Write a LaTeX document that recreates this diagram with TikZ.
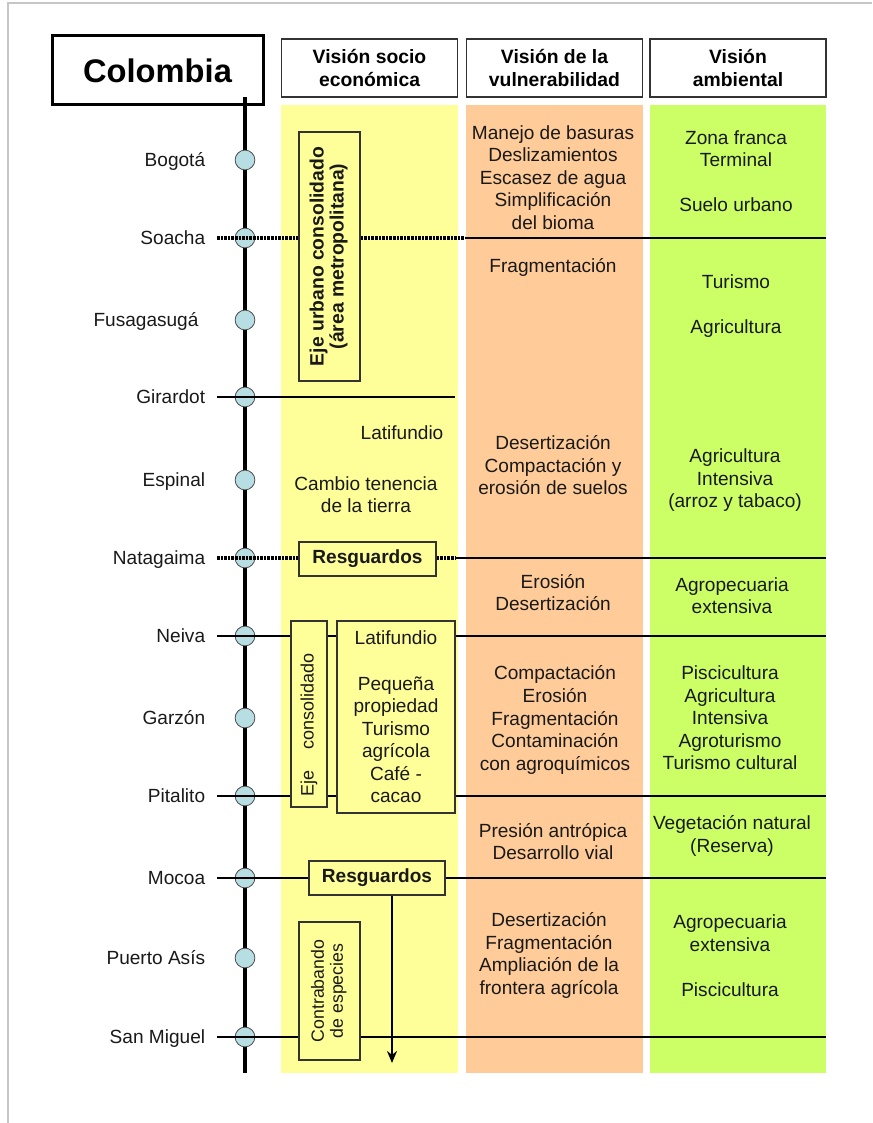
\documentclass[tikz,border=0pt]{standalone}
\usepackage{fontspec}
\setmainfont{Liberation Sans}
\usetikzlibrary{positioning,arrows.meta}

\definecolor{socioyellow}{HTML}{FFFF99}
\definecolor{vulnorange}{HTML}{FFCC99}
\definecolor{ambgreen}{HTML}{CCFF66}
\definecolor{citycyan}{HTML}{B7DEE3}

\newcommand\bodyfont{\fontsize{14.3}{16.9}\selectfont}
\newcommand\headfont{\fontsize{14.5}{17.3}\selectfont\bfseries}

\tikzset{
  city/.style={circle, draw=black!70, line width=0.6pt, fill=citycyan, minimum size=14.8pt, inner sep=0pt},
  cityname/.style={font=\bodyfont, text=black!90, inner sep=0pt, text height=10pt, text depth=0pt},
  rowline/.style={line width=1.6pt},
  dotline/.style={line width=2.6pt, dash pattern=on 1.9pt off 0.8pt},
  yellowbox/.style={draw=black!80, line width=0.9pt, fill=socioyellow, inner sep=0pt, text=black!90},
  headbox/.style={draw=black!80, line width=0.9pt, fill=white, minimum width=132pt, minimum height=43.5pt, align=center, font=\headfont},
  celltext/.style={align=center, font=\bodyfont, text=black!90, inner sep=0pt},
  arrowline/.style={line width=2.2pt, -{Stealth[length=9pt,width=7.5pt]}}
}

\begin{document}
\begin{tikzpicture}[x=0.75pt,y=-0.75pt]
    \useasboundingbox (0,0) rectangle (872,1123);
    \draw[gray!45, line width=0.9pt] (8,1123) -- (8,3) -- (872,3);

    % columns
    \fill[socioyellow] (281,105) rectangle (458,1073);
    \fill[vulnorange] (466,105) rectangle (643,1073);
    \fill[ambgreen] (650,105) rectangle (826,1073);

    \node[draw, line width=2.25pt, fill=white, minimum width=158.25pt, minimum height=51.75pt,
          font=\fontsize{24.5}{28}\selectfont\bfseries] (colombia) at (157.5,70.5) {Colombia};
    \node[headbox] (hsocio) at (369.5,68) {Visión socio\\económica};
    \node[headbox] (hvuln) at (554.5,68) {Visión de la\\vulnerabilidad};
    \node[headbox] (hamb) at (738,68) {Visión\\ambiental};

    \coordinate (top) at (245,97);
    \coordinate (bottom) at (245,1073);
    \draw[line width=3pt] (top) -- (bottom);

    \node[city] (bogota) at (245,160) {};
    \node[city] (soacha) at (245,238) {};
    \node[city] (fusagasuga) at (245,320) {};
    \node[city] (girardot) at (245,397) {};
    \node[city] (espinal) at (245,480) {};
    \node[city] (natagaima) at (245,558) {};
    \node[city] (neiva) at (245,636) {};
    \node[city] (garzon) at (245,718) {};
    \node[city] (pitalito) at (245,796) {};
    \node[city] (mocoa) at (245,878) {};
    \node[city] (puertoasis) at (245,958) {};
    \node[city] (sanmiguel) at (245,1037) {};

    \node[cityname, left=22pt of bogota] (lbogota) {Bogotá};
    \node[cityname, left=22pt of soacha] (lsoacha) {Soacha};
    \node[cityname, left=27pt of fusagasuga] (lfusagasuga) {Fusagasugá};
    \node[cityname, left=22pt of girardot] (lgirardot) {Girardot};
    \node[cityname, left=22pt of espinal] (lespinal) {Espinal};
    \node[cityname, left=22pt of natagaima] (lnatagaima) {Natagaima};
    \node[cityname, left=22pt of neiva] (lneiva) {Neiva};
    \node[cityname, left=22pt of garzon] (lgarzon) {Garzón};
    \node[cityname, left=22pt of pitalito] (lpitalito) {Pitalito};
    \node[cityname, left=22pt of mocoa] (lmocoa) {Mocoa};
    \node[cityname, left=22pt of puertoasis] (lpuertoasis) {Puerto Asís};
    \node[cityname, left=22pt of sanmiguel] (lsanmiguel) {San Miguel};

    \node[yellowbox, minimum width=45.75pt, minimum height=186.75pt] (eje1) at (329.5,256.5)
        {\rotatebox{90}{\fontsize{14.5}{14.5}\selectfont\bfseries
         \begin{tabular}{@{}c@{}}Eje urbano consolidado\\(área metropolitana)\end{tabular}}};
    \node[yellowbox, minimum width=102.75pt, minimum height=25.5pt, font=\bodyfont\bfseries] (resg1) at (367.5,559) {Resguardos};
    \node[yellowbox, minimum width=27pt, minimum height=139.5pt] (eje2) at (309,714)
        {\rotatebox{90}{\fontsize{13.5}{14}\selectfont Eje\hspace{16pt}consolidado\hspace{16pt}}};
    \node[yellowbox, minimum width=88.5pt, minimum height=144pt, align=center, font=\bodyfont] (lati) at (396,717)
        {Latifundio\\[16.9pt]Pequeña\\propiedad\\Turismo\\agrícola\\Café -\\cacao};
    \node[yellowbox, minimum width=102pt, minimum height=25.5pt, font=\bodyfont\bfseries] (resg2) at (377,878) {Resguardos};
    \node[yellowbox, minimum width=45.75pt, minimum height=103.5pt] (contra) at (329.5,991)
        {\rotatebox{90}{\fontsize{13.3}{14.2}\selectfont
         \begin{tabular}{@{}c@{}}Contrabando\\de especies\end{tabular}}};

    \coordinate (soachaL) at (217,238);
    \coordinate (soachaM) at (465,238);
    \coordinate (soachaR) at (826,238);
    \coordinate (girardotL) at (217,397);
    \coordinate (girardotR) at (455,397);
    \coordinate (natagaimaL) at (217,558);
    \coordinate (natagaimaM) at (456,558);
    \coordinate (natagaimaR) at (826,558);
    \coordinate (neivaL) at (217,636);
    \coordinate (neivaR) at (826,636);
    \coordinate (pitalitoL) at (217,796);
    \coordinate (pitalitoR) at (826,796);
    \coordinate (mocoaL) at (217,878);
    \coordinate (mocoaR) at (826,878);
    \coordinate (sanmiguelL) at (217,1037);
    \coordinate (sanmiguelR) at (826,1037);
    \coordinate (arrowend) at (392,1063);

    \draw[dotline] (soachaL) -- (eje1.west |- soacha);
    \draw[dotline] (eje1.east |- soacha) -- (soachaM);
    \draw[rowline] (soachaM) -- (soachaR);
    \draw[rowline] (girardotL) -- (girardotR);
    \draw[dotline] (natagaimaL) -- (resg1.west |- natagaima);
    \draw[dotline] (resg1.east |- natagaima) -- (natagaimaM);
    \draw[rowline] (natagaimaM) -- (natagaimaR);
    \draw[rowline] (neivaL) -- (eje2.west |- neiva);
    \draw[rowline] (eje2.east |- neiva) -- (lati.west |- neiva);
    \draw[rowline] (lati.east |- neiva) -- (neivaR);
    \draw[rowline] (pitalitoL) -- (eje2.west |- pitalito);
    \draw[rowline] (eje2.east |- pitalito) -- (lati.west |- pitalito);
    \draw[rowline] (lati.east |- pitalito) -- (pitalitoR);
    \draw[rowline] (mocoaL) -- (resg2.west);
    \draw[rowline] (resg2.east) -- (mocoaR);
    \draw[rowline] (sanmiguelL) -- (contra.west |- sanmiguel);
    \draw[rowline] (contra.east |- sanmiguel) -- (sanmiguelR);
    \draw[arrowline] (resg2.south -| arrowend) -- (arrowend);

    \node[celltext] (slati) at (402,433) {Latifundio};
    \node[celltext] (scambio) at (366,494.5) {Cambio tenencia\\de la tierra};

    \node[celltext] (v1) at (553,177.5) {Manejo de basuras\\Deslizamientos\\Escasez de agua\\Simplificación\\del bioma};
    \node[celltext] (v2) at (553,267) {Fragmentación};
    \node[celltext] (v3) at (553,465.5) {Desertización\\Compactación y\\erosión de suelos};
    \node[celltext] (v4) at (553,592.5) {Erosión\\Desertización};
    \node[celltext] (v5) at (555,720) {Compactación\\Erosión\\Fragmentación\\Contaminación\\con agroquímicos};
    \node[celltext] (v6) at (553,841.5) {Presión antrópica\\Desarrollo vial};
    \node[celltext] (v7) at (549,955.5) {Desertización\\Fragmentación\\Ampliación de la\\frontera agrícola};

    \node[celltext] (a1) at (736,171) {Zona franca\\Terminal\\[16.9pt]Suelo urbano};
    \node[celltext] (a2) at (736,306) {Turismo\\[16.9pt]Agricultura};
    \node[celltext] (a3) at (735,480.5) {Agricultura\\Intensiva\\(arroz y tabaco)};
    \node[celltext] (a4) at (732,595.5) {Agropecuaria\\extensiva};
    \node[celltext] (a5) at (730,718) {Piscicultura\\Agricultura\\Intensiva\\Agroturismo\\Turismo cultural};
    \node[celltext] (a6) at (732,836) {Vegetación natural\\(Reserva)};
    \node[celltext] (a7) at (730,955.5) {Agropecuaria\\extensiva\\[16.9pt]Piscicultura};
\end{tikzpicture}
\end{document}
